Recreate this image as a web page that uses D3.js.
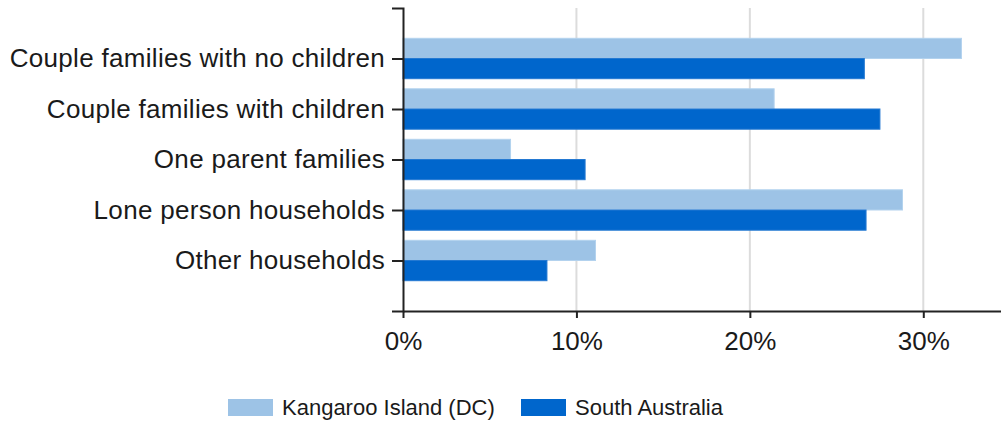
<!DOCTYPE html>
<html>
<head>
<meta charset="utf-8">
<script src="https://cdn.jsdelivr.net/npm/d3@7/dist/d3.min.js"></script>
<style>
  html, body { margin: 0; padding: 0; background: #fff; }
  svg { display: block; }
  text { font-family: "Liberation Sans", Arial, sans-serif; fill: #1a1a1a; }
</style>
</head>
<body>
<svg id="chart" width="1001" height="421"></svg>
<script>
const categories = [
  "Couple families with no children",
  "Couple families with children",
  "One parent families",
  "Lone person households",
  "Other households"
];
const seriesNames = ["Kangaroo Island (DC)", "South Australia"];
const kangarooIsland = [0.322, 0.214, 0.062, 0.288, 0.111];
const southAustralia = [0.266, 0.275, 0.105, 0.267, 0.083];
const xTicks = [0, 0.1, 0.2, 0.3];
const colors = ["#9dc3e6", "#0066cc"];

const svg = d3.select("#chart");

const x = d3.scaleLinear().domain([0, 0.35]).range([403, 1010]);
const y = d3.scalePoint().domain(categories).range([8, 311]).padding(1);
const bh = y.step() * 0.4;

// gridlines
svg.append("g").selectAll("line").data(xTicks.filter(d => d > 0)).join("line")
  .attr("x1", d => x(d)).attr("x2", d => x(d))
  .attr("y1", 8).attr("y2", 311)
  .attr("stroke", "#dcdcdc").attr("stroke-width", 2);

const series = [kangarooIsland, southAustralia];
series.forEach((vals, si) => {
  svg.append("g").selectAll("rect").data(categories).join("rect")
    .attr("x", x(0))
    .attr("y", d => si === 0 ? y(d) - bh : y(d))
    .attr("width", (d, i) => x(vals[i]) - x(0))
    .attr("height", bh)
    .attr("fill", colors[si])
    .attr("stroke", si === 0 ? "#b3d2ee" : "#2479d2")
    .attr("stroke-width", 1);
});

// y axis
const yAxis = svg.append("g").attr("transform", `translate(${x(0)},0)`)
  .call(d3.axisLeft(y).tickSize(11).tickPadding(7));
yAxis.selectAll("text").style("font-size", "26px").style("letter-spacing", "0.3px").attr("fill", "#1a1a1a");

// x axis
const xAxis = svg.append("g").attr("transform", "translate(0,311)")
  .call(d3.axisBottom(x).tickValues(xTicks).tickFormat(d3.format(".0%")).tickSizeInner(7).tickSizeOuter(0).tickPadding(14));
xAxis.selectAll("text").style("font-size", "26px").attr("fill", "#1a1a1a");

[yAxis, xAxis].forEach(a => {
  a.selectAll("path, line").attr("stroke", "#222").attr("stroke-width", 2);
});

// legend
const legend = svg.append("g");
const legendX = [228, 521];
seriesNames.forEach((name, i) => {
  legend.append("rect").attr("x", legendX[i]).attr("y", 399).attr("width", 45).attr("height", 17)
    .attr("fill", colors[i]);
  legend.append("text").attr("x", legendX[i] + 54).attr("y", 407.5)
    .attr("dy", "0.35em").style("font-size", "22px").text(name);
});
</script>
</body>
</html>
